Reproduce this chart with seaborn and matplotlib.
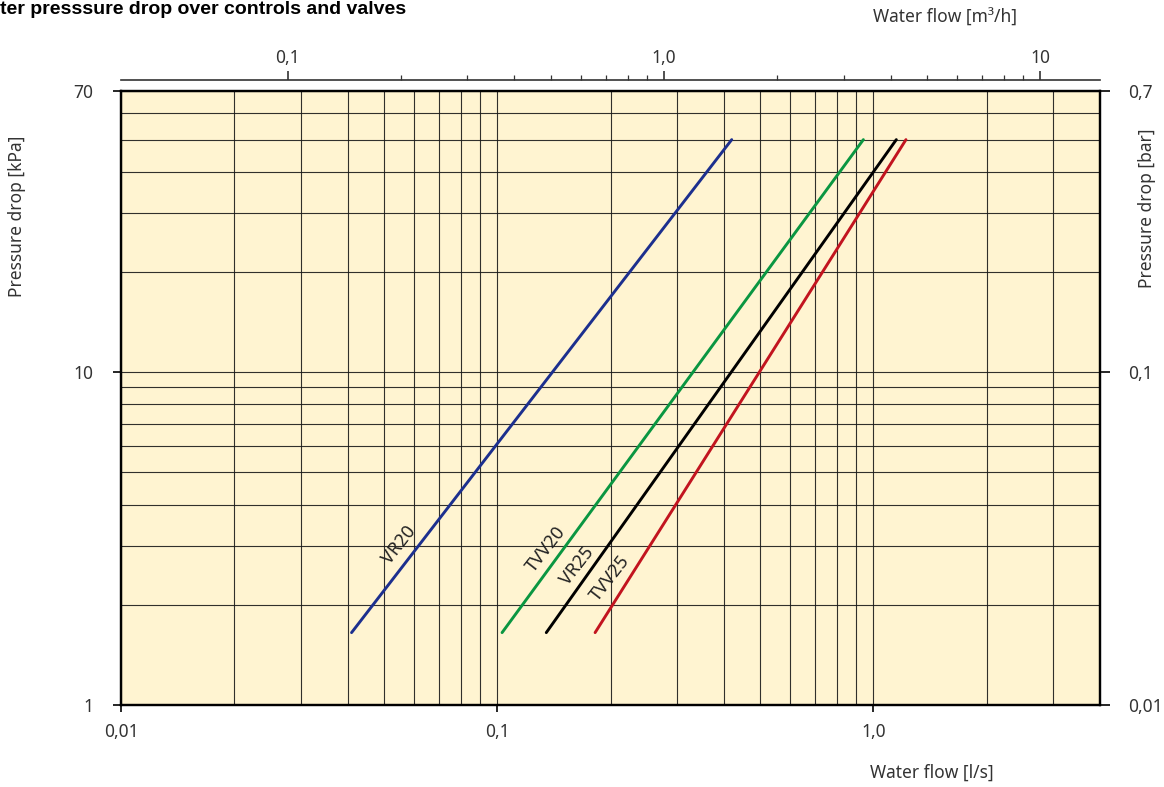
import numpy as np
import pandas as pd
import matplotlib
matplotlib.use("Agg")
import matplotlib.pyplot as plt
import seaborn as sns
from matplotlib.ticker import FixedLocator, FixedFormatter, NullFormatter

# curves (flow in l/s, pressure drop in kPa)
valves = ["VR20", "TVV20", "VR25", "TVV25"]
flow_low = [0.041, 0.103, 0.135, 0.182]
flow_high = [0.42, 0.94, 1.15, 1.22]
dp_low = [1.65, 1.65, 1.65, 1.65]
dp_high = [50, 50, 50, 50]
colors = ["#1c2f8e", "#0a9641", "#000000", "#c2141f"]

# where the curve names sit (data coords)
label_x = [0.055, 0.135, 0.163, 0.200]
label_y = [3.03, 2.93, 2.62, 2.40]

x_ticks = [0.01, 0.1, 1.0]
x_ticklabels = ["0,01", "0,1", "1,0"]
y_ticks = [1, 10, 70]
y_ticklabels = ["1", "10", "70"]
bar_ticks = [0.01, 0.1, 0.7]
bar_ticklabels = ["0,01", "0,1", "0,7"]
m3h_ticks = [0.1, 1.0, 10]
m3h_ticklabels = ["0,1", "1,0", "10"]

rows = []
for name, f0, f1, p0, p1 in zip(valves, flow_low, flow_high, dp_low, dp_high):
    rows.append({"valve": name, "flow": f0, "dp": p0})
    rows.append({"valve": name, "flow": f1, "dp": p1})
df = pd.DataFrame(rows)

sns.set_style("white")
plt.rcParams["font.family"] = ["Noto Sans", "DejaVu Sans"]

W, H = 1164, 787
fig = plt.figure(figsize=(W / 100, H / 100), dpi=100)
fs = 12.5


def px(x, y):
    return x / W, 1 - y / H


ax = fig.add_axes([121 / W, 1 - 705 / H, 979 / W, 614 / H])
ax.set_facecolor("#fff4d1")
ax.set_xscale("log")
ax.set_yscale("log")
ax.set_xlim(0.01, 4.0)
ax.set_ylim(1, 70)

sns.lineplot(data=df, x="flow", y="dp", hue="valve", palette=colors,
             hue_order=valves, legend=False, linewidth=2.1, ax=ax,
             estimator=None, sort=False)

# grid
minor_x = [m * 10.0 ** e for e in (-2, -1, 0) for m in range(2, 10) if m * 10.0 ** e < 4.0]
minor_y = [m * 10.0 ** e for e in (0, 1) for m in range(2, 10) if m * 10.0 ** e < 70]
ax.xaxis.set_major_locator(FixedLocator(x_ticks))
ax.xaxis.set_major_formatter(FixedFormatter(x_ticklabels))
ax.xaxis.set_minor_locator(FixedLocator(minor_x))
ax.xaxis.set_minor_formatter(NullFormatter())
ax.yaxis.set_major_locator(FixedLocator(y_ticks))
ax.yaxis.set_major_formatter(FixedFormatter(y_ticklabels))
ax.yaxis.set_minor_locator(FixedLocator(minor_y))
ax.yaxis.set_minor_formatter(NullFormatter())
ax.grid(True, which="both", color="#1a1a1a", linewidth=0.8, alpha=0.9)
ax.set_axisbelow(True)

for s in ax.spines.values():
    s.set_visible(True)
    s.set_linewidth(1.6)
    s.set_color("black")

ax.tick_params(axis="both", which="minor", length=0)
ax.tick_params(axis="x", which="major", direction="out", length=5, width=1.4,
               pad=8, labelsize=fs, labelcolor="#333333", bottom=True)
ax.tick_params(axis="y", which="major", direction="out", length=6, width=1.4,
               pad=14, labelsize=fs, labelcolor="#333333", left=True)
ax.set_xlabel("")
ax.set_ylabel("")

# right axis in bar
ax2 = ax.twinx()
ax2.set_yscale("log")
ax2.set_ylim(0.01, 0.7)
ax2.yaxis.set_major_locator(FixedLocator(bar_ticks))
ax2.yaxis.set_major_formatter(FixedFormatter(bar_ticklabels))
ax2.yaxis.set_minor_locator(FixedLocator([]))
ax2.tick_params(axis="y", which="major", direction="out", length=7, width=1.4,
                pad=13, labelsize=fs, labelcolor="#333333", right=True)
for s in ax2.spines.values():
    s.set_linewidth(1.6)
    s.set_color("black")

# top axis in m3/h
secax = ax.secondary_xaxis(1.018, functions=(lambda q: q * 3.6, lambda q: q / 3.6))
secax.xaxis.set_major_locator(FixedLocator(m3h_ticks))
secax.xaxis.set_major_formatter(FixedFormatter(m3h_ticklabels))
minor_top = [m * 10.0 ** e for e in (-1, 0) for m in range(2, 10)]
secax.xaxis.set_minor_locator(FixedLocator(minor_top))
secax.xaxis.set_minor_formatter(NullFormatter())
secax.spines["top"].set_linewidth(1.2)
secax.spines["top"].set_color("#333333")
secax.tick_params(axis="x", which="major", direction="out", length=6.5, width=1.2,
                  pad=3, labelsize=fs, labelcolor="#333333", color="#333333")
secax.tick_params(axis="x", which="minor", direction="out", length=3.5, width=0.9,
                  color="#333333")

# curve names
for name, lx, ly in zip(valves, label_x, label_y):
    ax.text(lx, ly, name, rotation=52, rotation_mode="anchor", ha="center",
            va="center", fontsize=13, color="#222222")

# labels and title
fig.text(*px(0, 10), "ter presssure drop over controls and valves",
         family=["Liberation Sans", "DejaVu Sans"], fontweight="bold",
         fontsize=14, ha="left", va="center", color="black")
fig.text(*px(945, 18), "Water flow [m³/h]", ha="center", va="center",
         fontsize=fs, color="#333333")
fig.text(*px(932, 773), "Water flow [l/s]", ha="center", va="center",
         fontsize=fs, color="#333333")
fig.text(*px(17, 216), "Pressure drop [kPa]", rotation=90, ha="center",
         va="center", fontsize=fs, color="#333333")
fig.text(*px(1147, 208), "Pressure drop [bar]", rotation=90, ha="center",
         va="center", fontsize=fs, color="#333333")

fig.savefig("out.png", dpi=100)
